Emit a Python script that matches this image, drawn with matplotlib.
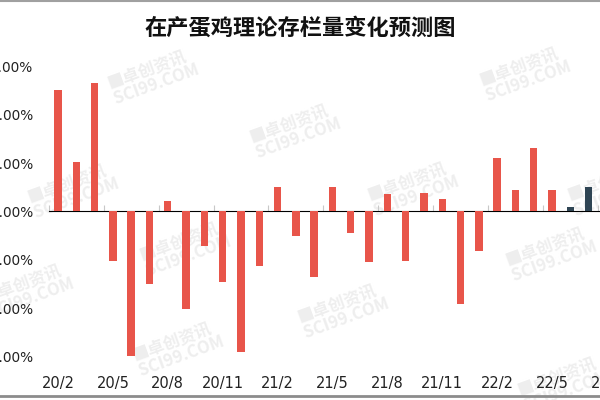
import matplotlib
matplotlib.use("Agg")
import matplotlib.pyplot as plt
from matplotlib.lines import Line2D
import numpy as np

plt.rcParams['font.family'] = ['Noto Sans CJK SC', 'DejaVu Sans']

title = "在产蛋鸡理论存栏量变化预测图"
months = ["20/2", "20/3", "20/4", "20/5", "20/6", "20/7", "20/8", "20/9", "20/10",
          "20/11", "20/12", "21/1", "21/2", "21/3", "21/4", "21/5", "21/6", "21/7",
          "21/8", "21/9", "21/10", "21/11", "21/12", "22/1", "22/2", "22/3", "22/4",
          "22/5", "22/6", "22/7", "22/8"]
actual = [2.52, 1.02, 2.66, -1.02, -2.99, -1.50, 0.22, -2.02, -0.71, -1.46,
          -2.91, -1.13, 0.51, -0.51, -1.36, 0.51, -0.45, -1.05, 0.36, -1.02,
          0.38, 0.26, -1.92, -0.82, 1.11, 0.45, 1.31, 0.45]
forecast = [0.09, 0.51]
yticks = [-3, -2, -1, 0, 1, 2, 3]

red = "#E8554A"
dark = "#2F4554"

W, H = 600, 400
fig = plt.figure(figsize=(6, 4), dpi=100)
fig.patch.set_facecolor("white")

# watermarks
wm = [(150, 78), (522, 75), (292, 132), (70, 192), (410, 190), (610, 190),
      (182, 250), (548, 255), (25, 292), (340, 312), (175, 350), (560, 385)]
for (x, y) in wm:
    fig.text(x / W, 1 - y / H, "■卓创资讯\n  SCI99.COM", rotation=20, ha="center",
             va="center", fontsize=12, color="#eeeeee", fontweight="bold",
             linespacing=0.9, zorder=0)

left_px = 48.8
cat_px = 18.3
ncat = len(months)
zero_px = 211.5
pct_px = 48.3
ax = fig.add_axes([left_px / W, (H - (zero_px + 3 * pct_px)) / H,
                   ncat * cat_px / W, 6 * pct_px / H])
ax.set_facecolor("none")
ax.set_zorder(2)

x_act = np.arange(len(actual))
x_fc = np.arange(len(actual), len(actual) + len(forecast))
ax.bar(x_act, actual, width=0.4, color=red, zorder=3)
ax.bar(x_fc, forecast, width=0.4, color=dark, zorder=3)

ax.set_xlim(-0.5, ncat - 0.5)
ax.set_ylim(-3, 3)
for s in ax.spines.values():
    s.set_visible(False)

ax.set_yticks(yticks)
ax.set_yticklabels([f"{v:.2f}%" for v in yticks], family="DejaVu Sans",
                   size=9.8, color="#222222")
ax.tick_params(axis="y", length=0, pad=11)

lab_idx = list(range(0, ncat, 3))
ax.set_xticks(lab_idx)
ax.set_xticklabels([months[i] for i in lab_idx], family="DejaVu Sans",
                   size=10.5, color="#222222")
ax.tick_params(axis="x", length=0, pad=14)

sec = ax.secondary_xaxis(0.5)
sec.spines["bottom"].set_color("#c8c8c8")
sec.spines["bottom"].set_linewidth(1.0)
sec.set_xticks([i - 0.5 for i in lab_idx])
sec.set_xticklabels([])
sec.tick_params(axis="x", length=4, width=0.8, color="#c8c8c8", direction="out")

fig.text(0.5, 1 - 28 / H, title, ha="center", va="center", fontsize=16,
         fontweight="bold", color="#111111")

# chart frame lines (cropped border)
fig.add_artist(Line2D([0, 1], [1 - 1 / H, 1 - 1 / H], transform=fig.transFigure,
                      color="#a0a0a0", linewidth=1.5))
fig.add_artist(Line2D([0, 1], [1 - 396 / H, 1 - 396 / H], transform=fig.transFigure,
                      color="#8c8c8c", linewidth=2))

fig.savefig("out.png", dpi=100)
